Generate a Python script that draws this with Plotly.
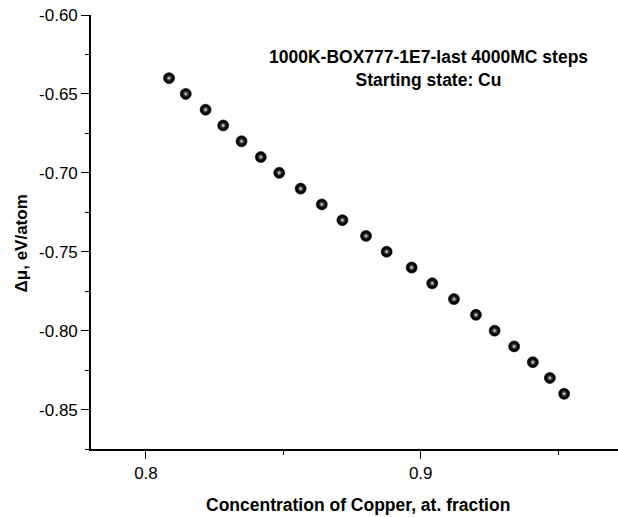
import plotly.graph_objects as go

# Copper concentration (at. fraction) and chemical potential difference (eV/atom)
cu_fraction = [0.8084, 0.8145, 0.8217, 0.8281, 0.8348, 0.8418, 0.8485, 0.8563,
               0.8640, 0.8715, 0.8801, 0.8876, 0.8967, 0.9042, 0.9121, 0.9201,
               0.9269, 0.9340, 0.9408, 0.9470, 0.9522]
delta_mu = [-0.64, -0.65, -0.66, -0.67, -0.68, -0.69, -0.70, -0.71, -0.72, -0.73,
            -0.74, -0.75, -0.76, -0.77, -0.78, -0.79, -0.80, -0.81, -0.82, -0.83,
            -0.84]

x_ticks = [0.8, 0.9]
y_ticks = [-0.60, -0.65, -0.70, -0.75, -0.80, -0.85]

FONT = "Liberation Sans, Arial, sans-serif"

fig = go.Figure()

# dark ball body
fig.add_trace(go.Scatter(
    x=cu_fraction, y=delta_mu, mode="markers",
    marker=dict(size=11, color="#040404", line=dict(width=0.6, color="#000000")),
    hoverinfo="x+y", showlegend=False,
))
# specular highlight on each ball
fig.add_trace(go.Scatter(
    x=cu_fraction, y=delta_mu, mode="markers",
    marker=dict(size=8, color="rgba(20,20,20,0)",
                gradient=dict(type="radial", color="#ffffff"),
                line=dict(width=0)),
    hoverinfo="skip", showlegend=False,
))

axis_common = dict(
    showgrid=False, zeroline=False, showline=True, linecolor="#000000",
    linewidth=1.6, ticks="outside", ticklen=8, tickwidth=1.4, tickcolor="#000000",
    tickfont=dict(family=FONT, size=17, color="#000000"), mirror=False,
)

fig.update_xaxes(
    range=[0.78, 0.9718], tickvals=x_ticks, ticktext=[f"{v:.1f}" for v in x_ticks],
    minor=dict(dtick=0.05, tick0=0.8, ticks="outside", ticklen=4, tickwidth=1.4,
               tickcolor="#000000"),
    **axis_common,
)
fig.update_yaxes(
    range=[-0.875, -0.60], tickvals=y_ticks, ticktext=[f"{v:.2f}" for v in y_ticks],
    minor=dict(dtick=0.025, tick0=-0.6, ticks="outside", ticklen=4, tickwidth=1.4,
               tickcolor="#000000"),
    **axis_common,
)

fig.update_layout(
    width=618, height=517,
    margin=dict(l=91, r=0, t=15, b=68),
    paper_bgcolor="#ffffff", plot_bgcolor="#ffffff",
    font=dict(family=FONT, color="#000000"),
    annotations=[
        dict(text="<b>1000K-BOX777-1E7-last 4000MC steps</b><br><b>Starting state: Cu</b>",
             xref="paper", yref="paper", x=0.6395, y=0.876,
             xanchor="center", yanchor="middle", showarrow=False, align="center",
             font=dict(family=FONT, size=17.5, color="#000000")),
        dict(text="<b>Concentration of Copper, at. fraction</b>",
             xref="paper", yref="paper", x=0.5066, y=-0.13,
             xanchor="center", yanchor="middle", showarrow=False,
             font=dict(family=FONT, size=17.5, color="#000000")),
        dict(text="<b>Δμ, eV/atom</b>",
             xref="paper", yref="paper", x=-0.1315, y=0.473, textangle=-90,
             xanchor="center", yanchor="middle", showarrow=False,
             font=dict(family=FONT, size=17, color="#000000")),
    ],
)

fig.write_html("out.html")
